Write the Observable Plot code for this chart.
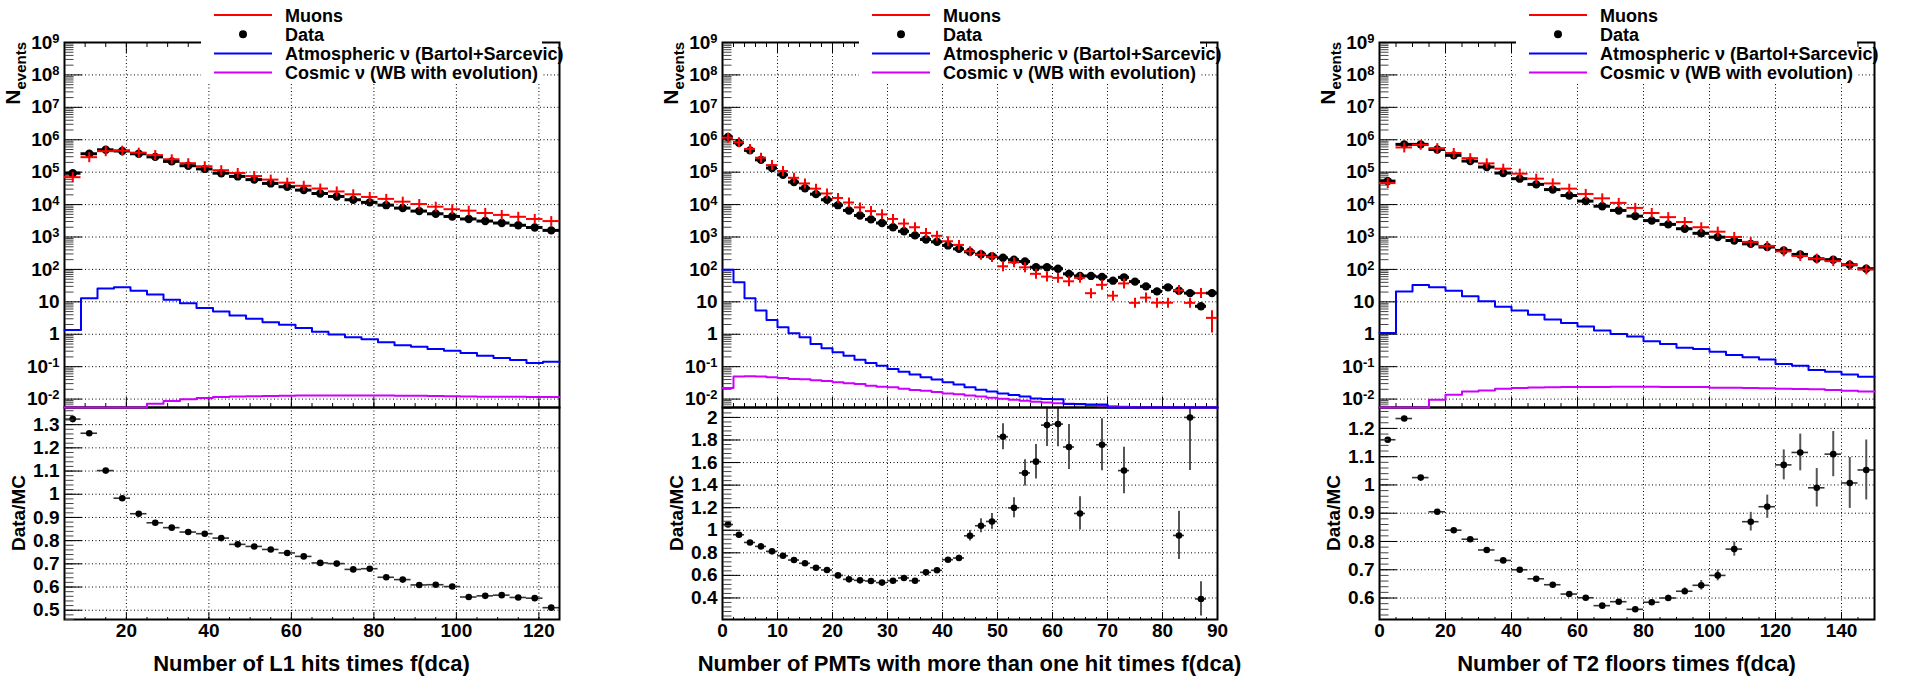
<!DOCTYPE html>
<html>
<head>
<meta charset="utf-8">
<script src="https://cdn.jsdelivr.net/npm/d3@7"></script>
<script src="https://cdn.jsdelivr.net/npm/@observablehq/plot@0.6"></script>
<style>
  body { margin: 0; background: #fff; }
  #chart { position: relative; width: 1907px; height: 680px; overflow: hidden; background: #fff; }
  #chart svg { position: absolute; overflow: visible; }
</style>
</head>
<body>
<div id="chart"></div>
<script>
// ---------------- DATA ----------------
// Panel 1: Number of L1 hits times f(dca)  (bin width 4)
const l1Centers = [7, 11, 15, 19, 23, 27, 31, 35, 39, 43, 47, 51, 55, 59, 63, 67, 71, 75, 79, 83, 87, 91, 95, 99, 103, 107, 111, 115, 119, 123];
const l1BinWidth = 4;
const l1Data   = [9.3e4, 3.7e5, 4.9e5, 4.5e5, 3.7e5, 2.96e5, 2.15e5, 1.58e5, 1.26e5, 9.3e4, 7.4e4, 5.9e4, 4.5e4, 3.55e4, 2.8e4, 2.2e4, 1.78e4, 1.41e4, 1.17e4, 9.6e3, 7.8e3, 6.3e3, 5.2e3, 4.3e3, 3.6e3, 3.1e3, 2.7e3, 2.3e3, 1.97e3, 1.6e3];
const l1Muons  = [7.0e4, 2.9e5, 4.45e5, 4.6e5, 4.0e5, 3.36e5, 2.5e5, 1.89e5, 1.52e5, 1.15e5, 9.45e4, 7.6e4, 5.9e4, 4.75e4, 3.8e4, 3.13e4, 2.54e4, 2.08e4, 1.72e4, 1.5e4, 1.23e4, 1.04e4, 8.6e3, 7.2e3, 6.5e3, 5.5e3, 4.8e3, 4.2e3, 3.6e3, 3.1e3];
const l1Atmo   = [1.36, 12.9, 26, 28, 22, 16.8, 11.5, 9.1, 6.4, 5.0, 3.8, 3.0, 2.35, 1.95, 1.57, 1.2, 0.98, 0.81, 0.70, 0.565, 0.456, 0.415, 0.35, 0.31, 0.264, 0.219, 0.185, 0.16, 0.13, 0.143];
const l1Cosmic = [0, 0, 0, 0, 0, 0.0072, 0.0088, 0.0098, 0.0108, 0.0115, 0.012, 0.0123, 0.0125, 0.0126, 0.0128, 0.013, 0.013, 0.013, 0.0129, 0.0128, 0.0127, 0.0126, 0.0124, 0.0122, 0.012, 0.0119, 0.0118, 0.0117, 0.0116, 0.0115];
const l1Ratio  = [1.324, 1.263, 1.102, 0.983, 0.916, 0.877, 0.856, 0.837, 0.83, 0.811, 0.784, 0.775, 0.762, 0.747, 0.732, 0.704, 0.701, 0.676, 0.679, 0.642, 0.632, 0.609, 0.61, 0.602, 0.557, 0.562, 0.565, 0.555, 0.552, 0.511];
const l1RatioErr = [0.002, 0.002, 0.002, 0.002, 0.002, 0.002, 0.002, 0.002, 0.002, 0.002, 0.002, 0.002, 0.002, 0.003, 0.003, 0.003, 0.003, 0.003, 0.003, 0.003, 0.004, 0.004, 0.004, 0.004, 0.004, 0.005, 0.005, 0.005, 0.005, 0.006];

// Panel 2: Number of PMTs with more than one hit times f(dca)  (bin width 2)
const pmtCenters = [1, 3, 5, 7, 9, 11, 13, 15, 17, 19, 21, 23, 25, 27, 29, 31, 33, 35, 37, 39, 41, 43, 45, 47, 49, 51, 53, 55, 57, 59, 61, 63, 65, 67, 69, 71, 73, 75, 77, 79, 81, 83, 85, 87, 89];
const pmtBinWidth = 2;
const pmtData   = [1.22e6, 8.1e5, 4.7e5, 2.4e5, 1.34e5, 8.3e4, 4.95e4, 3.2e4, 2.1e4, 1.41e4, 9.6e3, 6.6e3, 4.6e3, 3.5e3, 2.7e3, 2.0e3, 1.5e3, 1.12e3, 840, 710, 550, 430, 350, 295, 257, 228, 199, 175, 117, 117, 105, 73, 63, 63, 59, 45, 57, 42, 30, 21, 28, 22, 18.6, 7.3, 18.6];
const pmtMuons  = [1.16e6, 8.4e5, 5.2e5, 2.8e5, 1.65e5, 1.08e5, 6.7e4, 4.5e4, 3.1e4, 2.2e4, 1.6e4, 1.16e4, 8.2e3, 6.3e3, 5.0e3, 3.6e3, 2.6e3, 2.0e3, 1.33e3, 1.09e3, 740, 570, 365, 285, 240, 125, 165, 116, 73, 60, 55, 43, 55, 18.5, 33.5, 15.5, 37, 9.3, 13.5, 9.4, 9.4, 23, 9.3, 18.6, 3.2];
const pmtMuonsErr = [0, 0, 0, 0, 0, 0, 0, 0, 0, 0, 0, 0, 0, 0, 0, 0, 0, 0, 0, 0, 0, 0, 0, 0, 0, 0, 0, 0, 0, 0, 0, 0, 0, 0, 0, 0, 0, 0, 0, 0, 0, 0, 0, 0, 2.1];
const pmtAtmo   = [98, 40, 12.9, 5.4, 2.75, 1.64, 1.07, 0.81, 0.5, 0.37, 0.277, 0.219, 0.164, 0.13, 0.107, 0.085, 0.07, 0.057, 0.047, 0.04, 0.033, 0.028, 0.023, 0.0195, 0.017, 0.015, 0.0133, 0.012, 0.0105, 0.01, 0.0098, 0.0071, 0.007, 0.0068, 0.0068, 0, 0, 0, 0, 0, 0, 0, 0, 0, 0];
const pmtCosmic = [0.022, 0.05, 0.051, 0.05, 0.047, 0.045, 0.042, 0.041, 0.038, 0.036, 0.033, 0.031, 0.029, 0.026, 0.024, 0.023, 0.021, 0.019, 0.018, 0.0165, 0.015, 0.014, 0.0128, 0.012, 0.011, 0.0102, 0.0095, 0.0089, 0.0083, 0.0079, 0.0075, 0.0072, 0.0069, 0.0066, 0.0063, 0.006, 0.0058, 0.0056, 0.0054, 0.0052, 0.005, 0.0048, 0.0046, 0.0045, 0.0044];
const pmtRatio  = [1.051, 0.96, 0.892, 0.857, 0.813, 0.774, 0.736, 0.707, 0.668, 0.648, 0.60, 0.565, 0.556, 0.55, 0.536, 0.553, 0.577, 0.553, 0.627, 0.645, 0.739, 0.754, 0.951, 1.04, 1.078, 1.829, 1.199, 1.508, 1.608, 1.932, 1.941, 1.738, 1.149, 3.4, 1.758, 2.9, 1.529, 4.5, 2.2, 2.2, 3.0, 0.954, 2.0, 0.391, 5.8];
const pmtRatioErr = [0.003, 0.003, 0.003, 0.004, 0.004, 0.004, 0.005, 0.005, 0.006, 0.006, 0.007, 0.008, 0.008, 0.009, 0.009, 0.01, 0.011, 0.012, 0.013, 0.015, 0.02, 0.025, 0.047, 0.062, 0.07, 0.115, 0.088, 0.116, 0.153, 0.19, 0.2, 0.2, 0.147, 0, 0.23, 0, 0.206, 0, 0, 0, 0, 0.214, 0.47, 0.152, 0];

// Panel 3: Number of T2 floors times f(dca)  (bin width 5)
const t2Centers = [2.5, 7.5, 12.5, 17.5, 22.5, 27.5, 32.5, 37.5, 42.5, 47.5, 52.5, 57.5, 62.5, 67.5, 72.5, 77.5, 82.5, 87.5, 92.5, 97.5, 102.5, 107.5, 112.5, 117.5, 122.5, 127.5, 132.5, 137.5, 142.5, 147.5];
const t2BinWidth = 5;
const t2Data   = [5.3e4, 7.2e5, 7.2e5, 5.0e5, 3.3e5, 2.2e5, 1.44e5, 9.4e4, 6.3e4, 4.2e4, 2.9e4, 1.9e4, 1.28e4, 8.9e3, 6.6e3, 4.4e3, 3.2e3, 2.45e3, 1.8e3, 1.3e3, 990, 780, 615, 490, 385, 290, 213, 200, 139, 105];
const t2Muons  = [4.6e4, 5.8e5, 7.0e5, 5.5e5, 3.9e5, 2.7e5, 1.87e5, 1.28e5, 9.0e4, 6.3e4, 4.5e4, 3.1e4, 2.13e4, 1.56e4, 1.13e4, 7.9e3, 5.5e3, 4.1e3, 2.9e3, 2.0e3, 1.46e3, 1.0e3, 707, 530, 360, 260, 215, 180, 138, 100];
const t2Atmo   = [1.1, 21, 33, 28, 22, 15, 10.4, 7.1, 5.4, 4.0, 2.84, 2.24, 1.72, 1.3, 1.02, 0.85, 0.61, 0.5, 0.38, 0.35, 0.29, 0.229, 0.195, 0.165, 0.12, 0.107, 0.079, 0.07, 0.057, 0.049];
const t2Cosmic = [0, 0, 0, 0.0095, 0.0135, 0.017, 0.0185, 0.021, 0.0218, 0.0227, 0.0232, 0.0235, 0.0237, 0.0238, 0.024, 0.024, 0.024, 0.0238, 0.0237, 0.0235, 0.0225, 0.0223, 0.022, 0.0215, 0.021, 0.0205, 0.02, 0.019, 0.018, 0.017];
const t2Ratio  = [1.16, 1.235, 1.026, 0.905, 0.84, 0.808, 0.77, 0.733, 0.70, 0.668, 0.647, 0.614, 0.601, 0.573, 0.587, 0.56, 0.585, 0.60, 0.624, 0.645, 0.68, 0.773, 0.87, 0.923, 1.071, 1.115, 0.99, 1.109, 1.007, 1.053];
const t2RatioErr = [0.003, 0.002, 0.002, 0.002, 0.002, 0.003, 0.003, 0.003, 0.004, 0.004, 0.005, 0.005, 0.006, 0.006, 0.007, 0.008, 0.009, 0.01, 0.012, 0.017, 0.019, 0.025, 0.033, 0.041, 0.053, 0.065, 0.068, 0.08, 0.09, 0.106];

// Tick values / labels
const l1XTicks = [20, 40, 60, 80, 100, 120];
const pmtXTicks = [0, 10, 20, 30, 40, 50, 60, 70, 80, 90];
const t2XTicks = [0, 20, 40, 60, 80, 100, 120, 140];
const l1RatioTicks = [0.5, 0.6, 0.7, 0.8, 0.9, 1.0, 1.1, 1.2, 1.3];
const pmtRatioTicks = [0.4, 0.6, 0.8, 1.0, 1.2, 1.4, 1.6, 1.8, 2.0];
const t2RatioTicks = [0.6, 0.7, 0.8, 0.9, 1.0, 1.1, 1.2];
const countTicks = [1e-2, 1e-1, 1, 10, 1e2, 1e3, 1e4, 1e5, 1e6, 1e7, 1e8, 1e9];
const titles = ["Number of L1 hits times f(dca)", "Number of PMTs with more than one hit times f(dca)", "Number of T2 floors times f(dca)"];
const legendLabels = ["Muons", "Data", "Atmospheric \u03bd (Bartol+Sarcevic)", "Cosmic \u03bd (WB with evolution)"];
const legendColors = ["#ff0000", "#000000", "#0000ff", "#cc00ff"];
const yTitleUpper = ["N", "events"];
const yTitleLower = "Data/MC";

// ---------------- LAYOUT ----------------
const FONT = '"Liberation Sans", Arial, Helvetica, sans-serif';
const ML = 64, FW = 495, MR = 30, SW = ML + FW + MR;
const UP_TOP = 42, UP_H = 407, UP_FH = UP_H - UP_TOP;
const LOW_H = 273, LOW_FH = 212;
const Y_MIN = 0.0055, Y_MAX = 1e9, FLOOR = 1e-5;
const panelFrameLeft = [64, 722, 1379];
const C_RED = legendColors[0], C_BLUE = legendColors[2], C_MAG = legendColors[3];

const panels = [
  {centers: l1Centers, bw: l1BinWidth, data: l1Data, muons: l1Muons, muonsErr: null, atmo: l1Atmo, cosmic: l1Cosmic,
   ratio: l1Ratio, ratioErr: l1RatioErr, xDomain: [5, 125], xTicks: l1XTicks, xMinorStep: 5,
   rDomain: [0.46, 1.374], rTicks: l1RatioTicks, rMinorStep: 0.02},
  {centers: pmtCenters, bw: pmtBinWidth, data: pmtData, muons: pmtMuons, muonsErr: pmtMuonsErr, atmo: pmtAtmo, cosmic: pmtCosmic,
   ratio: pmtRatio, ratioErr: pmtRatioErr, xDomain: [0, 90], xTicks: pmtXTicks, xMinorStep: 2,
   rDomain: [0.209, 2.088], rTicks: pmtRatioTicks, rMinorStep: 0.04},
  {centers: t2Centers, bw: t2BinWidth, data: t2Data, muons: t2Muons, muonsErr: null, atmo: t2Atmo, cosmic: t2Cosmic,
   ratio: t2Ratio, ratioErr: t2RatioErr, xDomain: [0, 150], xTicks: t2XTicks, xMinorStep: 5,
   rDomain: [0.524, 1.274], rTicks: t2RatioTicks, rMinorStep: 0.02}
];

const gridOpts = {stroke: "#000", strokeOpacity: 1, strokeWidth: 1, strokeDasharray: "1,2.5"};
const styleOpts = {background: "transparent", overflow: "visible", fontFamily: FONT, fontWeight: "bold", color: "#000"};
const vArm = {draw(ctx, size) { const h = Math.sqrt(size / Math.PI); ctx.moveTo(0, -h); ctx.lineTo(0, h); }};

function rangeTicks(domain, step) {
  const a = Math.ceil(domain[0] / step - 1e-9), b = Math.floor(domain[1] / step + 1e-9);
  return d3.range(a, b + 1).map(i => +(i * step).toFixed(6));
}
const fmtRatio = d => { const s = d.toFixed(1); return s.endsWith(".0") ? s.slice(0, -2) : s; };
const fmtCount = v => { const k = Math.round(Math.log10(v)); return k === 0 ? "1" : k === 1 ? "10" : "10^" + k; };

function upperPlot(p) {
  const half = p.bw / 2;
  const rows = p.centers.map((c, j) => ({c, lo: c - half, hi: c + half, data: p.data[j], mc: p.muons[j], mcErr: p.muonsErr ? p.muonsErr[j] : 0}));
  const step = vals => p.centers.flatMap((c, j) => [{x: c - half, y: Math.max(vals[j], FLOOR)}, {x: c + half, y: Math.max(vals[j], FLOOR)}]);
  const minorY = d3.range(-3, 9).flatMap(k => d3.range(2, 10).map(m => m * Math.pow(10, k))).filter(v => v > Y_MIN && v < Y_MAX);
  const minorX = rangeTicks(p.xDomain, p.xMinorStep);
  return Plot.plot({
    width: SW, height: UP_H, marginLeft: ML, marginRight: MR, marginTop: UP_TOP, marginBottom: 0,
    x: {domain: p.xDomain, label: null},
    y: {type: "log", domain: [Y_MIN, Y_MAX], clamp: true, label: null},
    style: styleOpts,
    marks: [
      Plot.gridX(p.xTicks, gridOpts),
      Plot.gridY(countTicks, gridOpts),
      Plot.frame({stroke: "#000", strokeWidth: 2}),
      Plot.axisY(minorY, {anchor: "right", tickSize: 8.5, dx: -FW, fill: "none", stroke: "#444", label: null}),
      Plot.axisY(countTicks, {anchor: "right", tickSize: 17, dx: -FW, fill: "none", label: null}),
      Plot.axisY(countTicks, {anchor: "left", tickSize: 0, tickPadding: 5, tickFormat: fmtCount, fontSize: 19, fontWeight: "bold", label: null}),
      Plot.axisX(minorX, {anchor: "top", tickSize: 5, dy: UP_FH, fill: "none", label: null}),
      Plot.axisX(p.xTicks, {anchor: "top", tickSize: 11, dy: UP_FH, fill: "none", label: null}),
      Plot.axisX(minorX, {anchor: "bottom", tickSize: 5, dy: -UP_FH, fill: "none", label: null}),
      Plot.axisX(p.xTicks, {anchor: "bottom", tickSize: 11, dy: -UP_FH, fill: "none", label: null}),
      Plot.line(step(p.cosmic), {x: "x", y: "y", stroke: C_MAG, strokeWidth: 2}),
      Plot.line(step(p.atmo), {x: "x", y: "y", stroke: C_BLUE, strokeWidth: 2}),
      Plot.ruleY(rows, {y: "data", x1: "lo", x2: "hi", stroke: "#000", strokeWidth: 3}),
      Plot.dot(rows, {x: "c", y: "data", r: 4.2, fill: "#000"}),
      Plot.ruleY(rows, {y: "mc", x1: "lo", x2: "hi", stroke: C_RED, strokeWidth: 2}),
      Plot.dot(rows, {x: "c", y: "mc", symbol: vArm, r: 5, stroke: C_RED, strokeWidth: 2, fill: "none"}),
      Plot.ruleX(rows.filter(d => d.mcErr > 0), {x: "c", y1: d => d.mc - d.mcErr, y2: d => d.mc + d.mcErr, stroke: C_RED, strokeWidth: 2})
    ]
  });
}

function lowerPlot(p) {
  const half = p.bw / 2;
  const rows = p.centers.map((c, j) => ({c, lo: c - half, hi: c + half, r: p.ratio[j], e: p.ratioErr[j]}))
    .filter(d => d.r >= p.rDomain[0] && d.r <= p.rDomain[1]);
  const minorX = rangeTicks(p.xDomain, p.xMinorStep);
  const minorR = rangeTicks(p.rDomain, p.rMinorStep);
  return Plot.plot({
    width: SW, height: LOW_H, marginLeft: ML, marginRight: MR, marginTop: 0, marginBottom: LOW_H - LOW_FH,
    x: {domain: p.xDomain, label: null},
    y: {domain: p.rDomain, label: null},
    style: styleOpts,
    marks: [
      Plot.gridX(p.xTicks, gridOpts),
      Plot.gridY(p.rTicks, gridOpts),
      Plot.ruleY(rows, {y: "r", x1: "lo", x2: "hi", stroke: "#333", strokeWidth: 1.6, clip: true}),
      Plot.ruleX(rows, {x: "c", y1: d => d.r - d.e, y2: d => d.r + d.e, stroke: "#555", strokeWidth: 2, clip: true}),
      Plot.dot(rows, {x: "c", y: "r", r: 3.3, fill: "#000"}),
      Plot.frame({stroke: "#000", strokeWidth: 2}),
      Plot.axisY(minorR, {anchor: "right", tickSize: 8.5, dx: -FW, fill: "none", stroke: "#444", label: null}),
      Plot.axisY(p.rTicks, {anchor: "right", tickSize: 17, dx: -FW, fill: "none", label: null}),
      Plot.axisY(p.rTicks, {anchor: "left", tickSize: 0, tickPadding: 5, tickFormat: fmtRatio, fontSize: 19, fontWeight: "bold", label: null}),
      Plot.axisX(minorX, {anchor: "top", tickSize: 3, dy: LOW_FH, fill: "none", label: null}),
      Plot.axisX(p.xTicks, {anchor: "top", tickSize: 8, dy: LOW_FH, fill: "none", label: null}),
      Plot.axisX(p.xTicks, {anchor: "bottom", tickSize: 0, tickPadding: 4, tickFormat: d => String(d), fontSize: 19, fontWeight: "bold", label: null})
    ]
  });
}

function superscripts(svg) {
  d3.select(svg).selectAll("text").each(function() {
    if (this.childElementCount) return;
    const m = /^10\^(-?\d+)$/.exec(this.textContent);
    if (!m) return;
    this.textContent = "10";
    const t = document.createElementNS("http://www.w3.org/2000/svg", "tspan");
    t.setAttribute("dy", "-0.45em");
    t.setAttribute("font-size", "0.68em");
    t.textContent = m[1];
    this.appendChild(t);
  });
}

function decorateUpper(svg) {
  const s = d3.select(svg);
  const g = s.append("g").attr("font-family", FONT).attr("font-weight", "bold").attr("font-size", 18)
    .attr("fill", "#000").attr("text-anchor", "start");
  g.append("rect").attr("x", ML + 137).attr("y", 0).attr("width", 341).attr("height", 83).attr("fill", "#fff");
  legendLabels.forEach((lab, k) => {
    const cy = 15 + k * 19.2;
    if (k === 1) {
      g.append("circle").attr("cx", ML + 179).attr("cy", cy).attr("r", 4).attr("fill", legendColors[k]);
    } else {
      g.append("line").attr("x1", ML + 150).attr("x2", ML + 208).attr("y1", cy).attr("y2", cy)
        .attr("stroke", legendColors[k]).attr("stroke-width", 2);
    }
    g.append("text").attr("x", ML + 221).attr("y", cy + 6.5).attr("text-anchor", "start").text(lab);
  });
  const t = s.append("text").attr("font-family", FONT).attr("font-weight", "bold").attr("font-size", 21)
    .attr("text-anchor", "end").attr("transform", `translate(${ML - 44},${UP_TOP}) rotate(-90)`);
  t.append("tspan").text(yTitleUpper[0]);
  t.append("tspan").attr("font-size", 15).attr("dy", 6).text(yTitleUpper[1]);
}

function decorateLower(svg, title) {
  const s = d3.select(svg);
  s.append("text").attr("font-family", FONT).attr("font-weight", "bold").attr("font-size", 19)
    .attr("text-anchor", "middle").attr("transform", `translate(${ML - 39},${LOW_FH / 2}) rotate(-90)`).text(yTitleLower);
  s.append("text").attr("font-family", FONT).attr("font-weight", "bold").attr("font-size", 22)
    .attr("text-anchor", "middle").attr("x", ML + FW / 2).attr("y", 264).text(title);
}

const chart = document.getElementById("chart");
function place(svg, left, top) {
  svg.style.position = "absolute";
  svg.style.left = left + "px";
  svg.style.top = top + "px";
  chart.appendChild(svg);
}

panels.forEach((p, i) => {
  const low = lowerPlot(p);
  decorateLower(low, titles[i]);
  place(low, panelFrameLeft[i] - ML, UP_H);
});
panels.forEach((p, i) => {
  const up = upperPlot(p);
  superscripts(up);
  decorateUpper(up);
  place(up, panelFrameLeft[i] - ML, 0);
});
</script>
</body>
</html>
